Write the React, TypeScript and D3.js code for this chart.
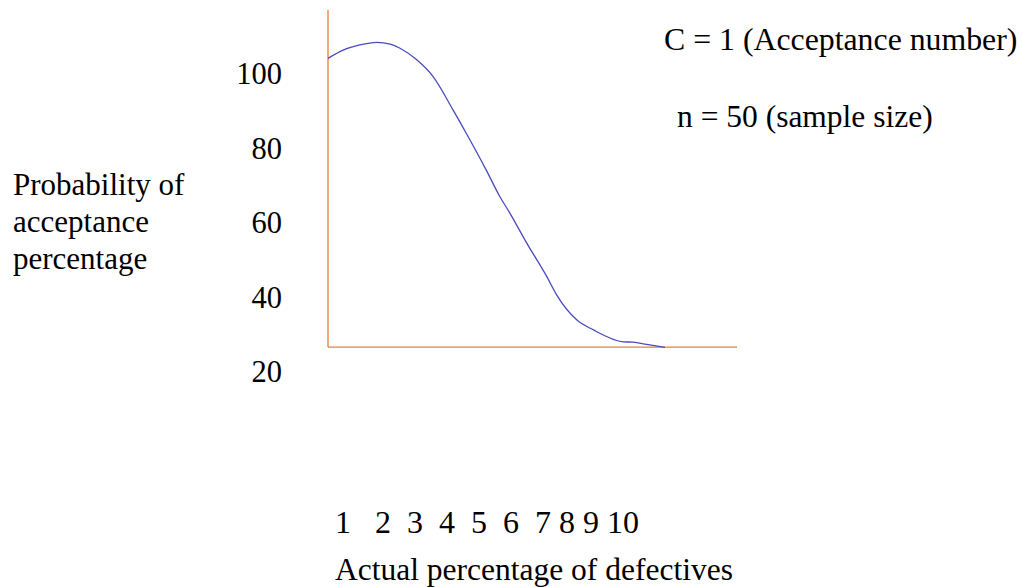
import React from 'react';
import * as d3 from 'd3';

// curve: actual % defective (plot units) vs probability of acceptance
const defectX = [0, 0.37, 0.78, 1.19, 1.52, 1.76, 2.17, 2.57, 3.06, 3.38, 3.87, 4.2, 4.45, 4.86, 5.35, 5.59, 6.08, 6.49, 7.22, 7.46, 7.79, 8.24];
const acceptY = [104.2, 106.4, 107.8, 108.5, 108.0, 106.9, 103.8, 99.3, 90.3, 84.1, 74.2, 67.1, 62.6, 54.6, 45.6, 40.7, 34.0, 31.3, 28.1, 28.0, 27.4, 26.6];

const yTicks = [100, 80, 60, 40, 20];
const xTickLabels = ['1', '2', '3', '4', '5', '6', '7', '8', '9', '10'];
const xTickGaps = [3, 2, 2, 2, 2, 2, 1, 1, 1]; // spaces typed between the labels

const xDomain = [0, 10];
const yAxisRange = [26.7, 117.2];

const yLabelLines = ['Probability of', 'acceptance', 'percentage'];
const xLabel = 'Actual percentage of defectives';
const notes = ['C = 1 (Acceptance number)', 'n = 50 (sample size)'];

const width = 1023;
const height = 587;
const font = '"Liberation Serif", "Times New Roman", serif';
const fs = 31.5;

const App: React.FC = () => {
  const x = d3.scaleLinear().domain(xDomain).range([328, 737]);
  const y = d3.scaleLinear().domain([20, 100]).range([372, 74]);

  const pts = defectX.map((d, i) => [d, acceptY[i]] as [number, number]);
  const line = d3.line<[number, number]>()
    .x(d => x(d[0]))
    .y(d => y(d[1]))
    .curve(d3.curveMonotoneX);

  const tickString = xTickLabels
    .map((t, i) => (i < xTickGaps.length ? t + ' '.repeat(xTickGaps[i]) : t))
    .join('');

  return (
    <svg width={width} height={height} style={{ position: 'absolute', left: 0, top: 0, background: '#fff' }}
      fontFamily={font} fontSize={fs} fill="#000">
      {/* axes */}
      <line x1={x(xDomain[0])} x2={x(xDomain[0])} y1={y(yAxisRange[1])} y2={y(yAxisRange[0])}
        stroke="#ED7D31" strokeWidth={1.3} />
      <line x1={x(xDomain[0])} x2={x(xDomain[1])} y1={y(yAxisRange[0])} y2={y(yAxisRange[0])}
        stroke="#ED7D31" strokeWidth={1.3} />

      <path d={line(pts) || ''} fill="none" stroke="#4a4ac0" strokeWidth={1.3} />

      {/* y tick labels */}
      {yTicks.map(t => (
        <text key={t} x={282} y={y(t)} dy="0.34em" textAnchor="end" fontSize={30.5}>{t}</text>
      ))}

      {/* y axis title */}
      {yLabelLines.map((s, i) => (
        <text key={s} x={13} y={195 + i * 37} fontSize={31}>{s}</text>
      ))}

      {/* x tick labels */}
      <text x={335} y={533} fontSize={32} style={{ whiteSpace: 'pre' }} xmlSpace="preserve">{tickString}</text>
      <text x={335} y={580}>{xLabel}</text>

      {/* notes */}
      <text x={664} y={50} fontSize={31.8}>{notes[0]}</text>
      <text x={677} y={127} fontSize={31.5}>{notes[1]}</text>
    </svg>
  );
};

export default App;
